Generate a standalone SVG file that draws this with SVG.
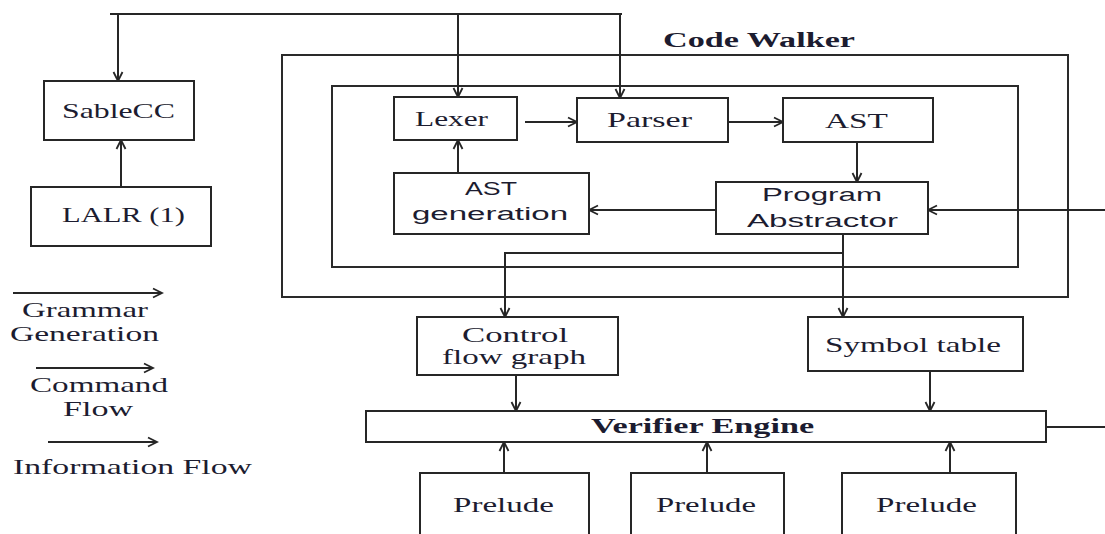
<svg xmlns="http://www.w3.org/2000/svg" width="1105" height="534" viewBox="0 0 1105 534">
<style>
  .box { fill: #ffffff; stroke: #262626; stroke-width: 2; }
  .frame { fill: none; stroke: #2a2a2a; stroke-width: 2; }
  .ln { fill: none; stroke: #262626; stroke-width: 2; }
  .arr { fill: none; stroke: #262626; stroke-width: 2; marker-end: url(#ah); }
  .serif { font-family: "Liberation Serif", "Times New Roman", serif; font-size: 22px; fill: #1c1c30; }
  .bold { font-weight: bold; }
  .sans { font-family: "Liberation Sans", Arial, sans-serif; font-size: 19px; fill: #1c1c30; }
</style>
<defs>
  <marker id="ah" markerUnits="userSpaceOnUse" markerWidth="12" markerHeight="12" refX="10" refY="5" orient="auto" viewBox="0 0 12 10">
    <path d="M1,0.5 L10,5 L1,9.5" fill="none" stroke="#262626" stroke-width="1.8"/>
  </marker>
</defs>
<rect width="1105" height="534" fill="#ffffff"/>

<g id="code-walker">
  <rect class="frame" x="282" y="55" width="786" height="242"/>
  <text class="serif bold" transform="translate(663,47) scale(1.5,1)" x="0" y="0" textLength="128" lengthAdjust="spacingAndGlyphs">Code Walker</text>
</g>
<g id="inner-frame">
  <rect class="frame" x="332" y="86" width="686" height="181"/>
</g>

<g id="connectors">
  <path class="ln" d="M110,14 H622"/>
  <path class="arr" d="M118,14 V81"/>
  <path class="arr" d="M458,14 V97"/>
  <path class="arr" d="M620,14 V98"/>
  <path class="arr" d="M121,187 V140"/>
  <path class="arr" d="M525,122 H577"/>
  <path class="arr" d="M728,122 H783"/>
  <path class="arr" d="M857,142 V182"/>
  <path class="arr" d="M458,173 V140"/>
  <path class="arr" d="M716,210 H589"/>
  <path class="arr" d="M1105,210 H928"/>
  <path class="arr" d="M843,234 V317"/>
  <path class="arr" d="M843,253 H505 V317"/>
  <path class="arr" d="M516,375 V411"/>
  <path class="arr" d="M930,371 V411"/>
  <path class="arr" d="M504,473 V442"/>
  <path class="arr" d="M707,473 V442"/>
  <path class="arr" d="M950,473 V442"/>
  <path class="ln" d="M1046,427 H1105"/>
</g>

<g id="sablecc">
  <rect class="box" x="44" y="81" width="150" height="59"/>
  <text class="serif" transform="translate(62,118) scale(1.5,1)" x="0" y="0" textLength="75.3" lengthAdjust="spacingAndGlyphs">SableCC</text>
</g>
<g id="lalr">
  <rect class="box" x="31" y="187" width="180" height="59"/>
  <text class="serif" transform="translate(62,222) scale(1.5,1)" x="0" y="0" textLength="82" lengthAdjust="spacingAndGlyphs">LALR (1)</text>
</g>

<g id="lexer">
  <rect class="box" x="394" y="97" width="123" height="43"/>
  <text class="serif" transform="translate(415,126) scale(1.5,1)" x="0" y="0" textLength="48.7" lengthAdjust="spacingAndGlyphs">Lexer</text>
</g>
<g id="parser">
  <rect class="box" x="577" y="98" width="151" height="44"/>
  <text class="serif" transform="translate(607,127) scale(1.5,1)" x="0" y="0" textLength="56.7" lengthAdjust="spacingAndGlyphs">Parser</text>
</g>
<g id="ast">
  <rect class="box" x="783" y="98" width="150" height="44"/>
  <text class="serif" transform="translate(825,128) scale(1.5,1)" x="0" y="0" textLength="42" lengthAdjust="spacingAndGlyphs">AST</text>
</g>
<g id="ast-generation">
  <rect class="box" x="394" y="173" width="195" height="61"/>
  <text class="sans" transform="translate(465,195) scale(1.5,1)" x="0" y="0" textLength="34.7" lengthAdjust="spacingAndGlyphs">AST</text>
  <text class="sans" transform="translate(412,220) scale(1.5,1)" x="0" y="0" textLength="104" lengthAdjust="spacingAndGlyphs">generation</text>
</g>
<g id="program-abstractor">
  <rect class="box" x="716" y="182" width="212" height="52"/>
  <text class="sans" transform="translate(762,201) scale(1.5,1)" x="0" y="0" textLength="80" lengthAdjust="spacingAndGlyphs">Program</text>
  <text class="sans" transform="translate(747,227) scale(1.5,1)" x="0" y="0" textLength="100.7" lengthAdjust="spacingAndGlyphs">Abstractor</text>
</g>

<g id="control-flow-graph">
  <rect class="box" x="417" y="317" width="201" height="58"/>
  <text class="serif" transform="translate(462,342) scale(1.5,1)" x="0" y="0" textLength="70.7" lengthAdjust="spacingAndGlyphs">Control</text>
  <text class="serif" transform="translate(442,364) scale(1.5,1)" x="0" y="0" textLength="96" lengthAdjust="spacingAndGlyphs">flow graph</text>
</g>
<g id="symbol-table">
  <rect class="box" x="808" y="317" width="215" height="54"/>
  <text class="serif" transform="translate(825,352) scale(1.5,1)" x="0" y="0" textLength="117.3" lengthAdjust="spacingAndGlyphs">Symbol table</text>
</g>
<g id="verifier-engine">
  <rect class="box" x="366" y="411" width="680" height="31"/>
  <text class="serif bold" transform="translate(591,433) scale(1.5,1)" x="0" y="0" textLength="148.7" lengthAdjust="spacingAndGlyphs">Verifier Engine</text>
</g>
<g id="prelude-1">
  <rect class="box" x="420" y="473" width="169" height="70"/>
  <text class="serif" transform="translate(453,512) scale(1.5,1)" x="0" y="0" textLength="67.3" lengthAdjust="spacingAndGlyphs">Prelude</text>
</g>
<g id="prelude-2">
  <rect class="box" x="631" y="473" width="153" height="70"/>
  <text class="serif" transform="translate(656,512) scale(1.5,1)" x="0" y="0" textLength="66.7" lengthAdjust="spacingAndGlyphs">Prelude</text>
</g>
<g id="prelude-3">
  <rect class="box" x="842" y="473" width="174" height="70"/>
  <text class="serif" transform="translate(876,512) scale(1.5,1)" x="0" y="0" textLength="67.3" lengthAdjust="spacingAndGlyphs">Prelude</text>
</g>

<g id="legend">
  <path class="arr" d="M13,293 H162"/>
  <text class="serif" transform="translate(22,317) scale(1.5,1)" x="0" y="0" textLength="84" lengthAdjust="spacingAndGlyphs">Grammar</text>
  <text class="serif" transform="translate(10,341) scale(1.5,1)" x="0" y="0" textLength="99.3" lengthAdjust="spacingAndGlyphs">Generation</text>
  <path class="arr" d="M36,368 H153"/>
  <text class="serif" transform="translate(30,392) scale(1.5,1)" x="0" y="0" textLength="92" lengthAdjust="spacingAndGlyphs">Command</text>
  <text class="serif" transform="translate(63,416) scale(1.5,1)" x="0" y="0" textLength="46.7" lengthAdjust="spacingAndGlyphs">Flow</text>
  <path class="arr" d="M48,442 H157"/>
  <text class="serif" transform="translate(13,474) scale(1.5,1)" x="0" y="0" textLength="159.3" lengthAdjust="spacingAndGlyphs">Information Flow</text>
</g>
</svg>
